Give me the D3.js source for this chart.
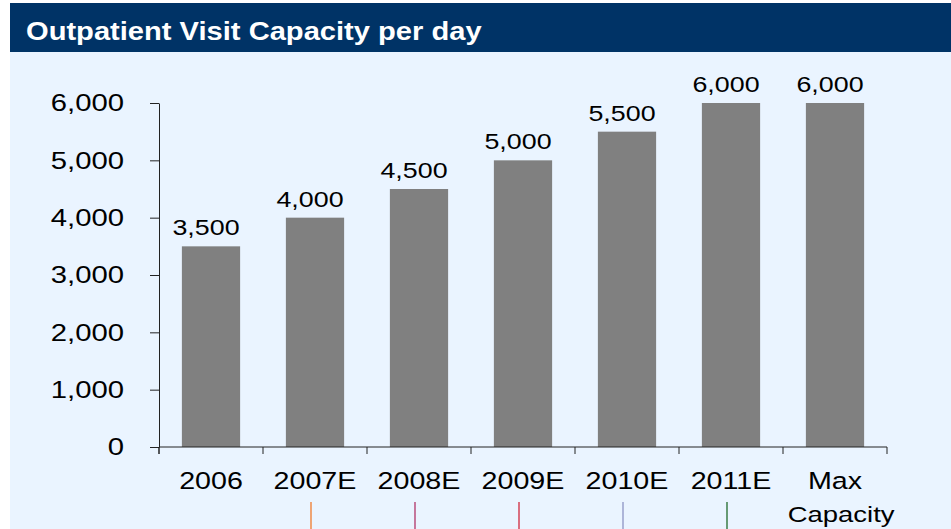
<!DOCTYPE html>
<html>
<head>
<meta charset="utf-8">
<script src="https://cdn.jsdelivr.net/npm/d3@7/dist/d3.min.js"></script>
<style>
  html, body { margin: 0; padding: 0; background: #ffffff; }
  svg { display: block; }
  text { font-family: "Liberation Sans", Arial, sans-serif; }
</style>
</head>
<body>
<div id="chart"></div>
<script>
// ---- data ----
const title = "Outpatient Visit Capacity per day";
const categories = ["2006", "2007E", "2008E", "2009E", "2010E", "2011E", "Max Capacity"];
const values = [3500, 4000, 4500, 5000, 5500, 6000, 6000];
const yTickValues = [0, 1000, 2000, 3000, 4000, 5000, 6000];
const markerCategories = ["2007E", "2008E", "2009E", "2010E", "2011E"];
const markerColors = ["#f07a2a", "#b03468", "#d0283c", "#8c94c4", "#1f6a2a"];

// ---- layout ----
const W = 951, H = 529;
const SX = 1.22; // horizontal stretch of the original text
const plot = { left: 159, right: 887, top: 103, bottom: 447 };

const svg = d3.select("#chart").append("svg")
  .attr("width", W).attr("height", H);

// backgrounds
svg.append("rect").attr("x", 10).attr("y", 3).attr("width", W - 10).attr("height", H - 3)
  .attr("fill", "#eaf4ff");
svg.append("rect").attr("x", 10).attr("y", 3).attr("width", W - 10).attr("height", 49)
  .attr("fill", "#003366");

svg.append("g").attr("transform", `translate(26,40) scale(1.12,1)`)
  .append("text")
  .attr("fill", "#ffffff")
  .attr("font-weight", "bold")
  .attr("font-size", 26)
  .text(title);

// scales
const x = d3.scaleBand().domain(categories)
  .range([plot.left, plot.right])
  .paddingInner(0.44).paddingOuter(0.22);
const y = d3.scaleLinear().domain([0, 6000]).range([plot.bottom, plot.top]);

// bars
svg.append("g").selectAll("rect").data(categories).join("rect")
  .attr("x", d => x(d))
  .attr("y", (d, i) => y(values[i]))
  .attr("width", x.bandwidth())
  .attr("height", (d, i) => y(0) - y(values[i]))
  .attr("fill", "#808080");

// y axis
const yAxis = svg.append("g").attr("transform", `translate(${plot.left},0)`)
  .call(d3.axisLeft(y).tickValues(yTickValues).tickSize(9).tickSizeOuter(0)
    .tickFormat(d3.format(",")));
yAxis.select(".domain").attr("stroke", "#222");
yAxis.selectAll(".tick line").attr("stroke", "#222");
yAxis.selectAll(".tick text")
  .attr("x", -(plot.left - 124) / SX)
  .attr("transform", `scale(${SX},1)`)
  .attr("font-size", 24)
  .attr("font-family", "'Liberation Sans', Arial, sans-serif")
  .attr("fill", "#000");

// extend y axis slightly below the x axis
svg.append("line")
  .attr("x1", plot.left).attr("x2", plot.left)
  .attr("y1", plot.bottom).attr("y2", plot.bottom + 7)
  .attr("stroke", "#222");

// x axis line
svg.append("line")
  .attr("x1", plot.left).attr("x2", plot.right)
  .attr("y1", plot.bottom).attr("y2", plot.bottom)
  .attr("stroke", "#222");

// x boundary ticks
const boundaries = d3.range(categories.length + 1)
  .map(i => plot.left + i * x.step());
svg.append("g").selectAll("line").data(boundaries).join("line")
  .attr("x1", d => d).attr("x2", d => d)
  .attr("y1", plot.bottom).attr("y2", plot.bottom + 7)
  .attr("stroke", "#222");

// x labels
const xl = svg.append("g").selectAll("g").data(categories).join("g")
  .attr("transform", d => `translate(${x(d) + x.bandwidth() / 2},489) scale(${SX},1)`);
xl.append("text")
  .attr("text-anchor", "middle")
  .attr("font-size", 23.5)
  .attr("fill", "#000")
  .each(function (d) {
    const parts = d.split(" ");
    d3.select(this).selectAll("tspan").data(parts).join("tspan")
      .attr("x", (p, i) => i === 0 ? 0 : 5)
      .attr("dy", (p, i) => i === 0 ? 0 : 33)
      .attr("font-size", (p, i) => i === 0 ? 23.5 : 22.5)
      .text(p => p);
  });

// value labels
svg.append("g").selectAll("g").data(categories).join("g")
  .attr("transform", (d, i) => `translate(${x(d) + x.bandwidth() / 2 - 5},${y(values[i]) - 11}) scale(${SX},1)`)
  .append("text")
  .attr("text-anchor", "middle")
  .attr("font-size", 22)
  .attr("fill", "#000")
  .text((d, i) => d3.format(",")(values[i]));

// small coloured marker lines under the axis labels
svg.append("g").selectAll("line").data(markerCategories).join("line")
  .attr("x1", d => x(d) + x.bandwidth() / 2 - 4)
  .attr("x2", d => x(d) + x.bandwidth() / 2 - 4)
  .attr("y1", 502).attr("y2", H)
  .attr("stroke", (d, i) => markerColors[i])
  .attr("stroke-width", 1.3);
</script>
</body>
</html>
